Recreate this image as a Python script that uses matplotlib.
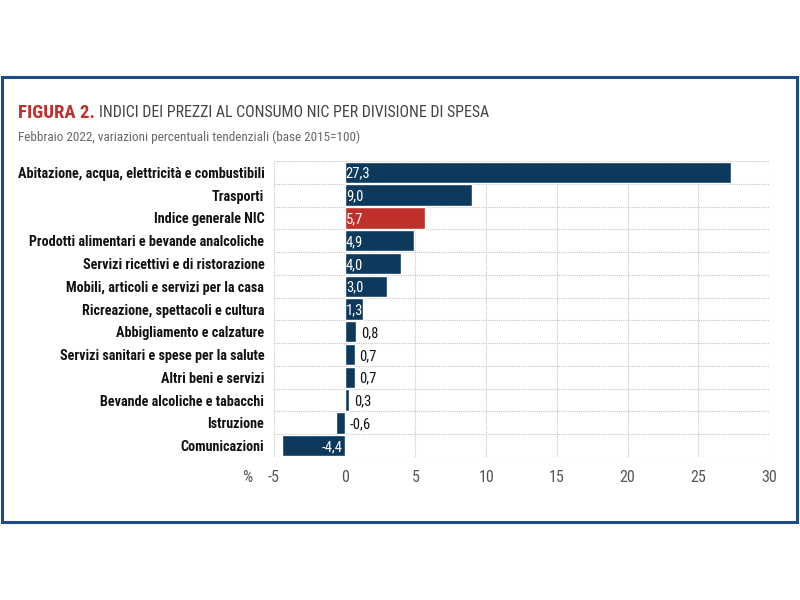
import os
import matplotlib.pyplot as plt
import matplotlib.font_manager as fm
from matplotlib.patches import Rectangle

categories = [
    "Abitazione, acqua, elettricità e combustibili",
    "Trasporti",
    "Indice generale NIC",
    "Prodotti alimentari e bevande analcoliche",
    "Servizi ricettivi e di ristorazione",
    "Mobili, articoli e servizi per la casa",
    "Ricreazione, spettacoli e cultura",
    "Abbigliamento e calzature",
    "Servizi sanitari e spese per la salute",
    "Altri beni e servizi",
    "Bevande alcoliche e tabacchi",
    "Istruzione",
    "Comunicazioni",
]
values = [27.3, 9.0, 5.7, 4.9, 4.0, 3.0, 1.3, 0.8, 0.7, 0.7, 0.3, -0.6, -4.4]
xticks = [-5, 0, 5, 10, 15, 20, 25, 30]
highlight = "Indice generale NIC"

navy = "#0d3a5c"
red = "#c0302a"

files = {os.path.basename(f.fname): f.fname for f in fm.fontManager.ttflist}


def find_font(names, fallback_weight):
    # narrow fonts first, plain DejaVu if none is installed
    for n in names:
        if n in files:
            return fm.FontProperties(fname=files[n])
    return fm.FontProperties(family="DejaVu Sans", weight=fallback_weight)


fp_bold = find_font(["RobotoCondensed-Bold.ttf", "LiberationSansNarrow-Bold.ttf",
                     "NotoSans-ExtraCondensedBold.ttf", "NotoSans-CondensedBold.ttf",
                     "DejaVuSansCondensed-Bold.ttf"], "bold")
fp_reg = find_font(["RobotoCondensed-Regular.ttf", "LiberationSansNarrow-Regular.ttf",
                    "NotoSans-ExtraCondensed.ttf", "NotoSans-Condensed.ttf",
                    "DejaVuSansCondensed.ttf"], "normal")

fig = plt.figure(figsize=(8, 6), dpi=100)
fig.patch.set_facecolor("white")
renderer = fig.canvas.get_renderer()


def fit(texts, target_px):
    # scale font size so the widest text is target_px wide
    w = max(t.get_window_extent(renderer).width for t in texts)
    for t in texts:
        t.set_fontsize(t.get_fontsize() * target_px / w)


# blue frame around the chart
fig.add_artist(Rectangle((0.003, 0.13), 0.993, 0.742, transform=fig.transFigure,
                         fill=False, edgecolor="#1b4a86", linewidth=2.2))

ax = fig.add_axes([0.3425, 0.2383, 0.6188, 0.4934])
n = len(categories)
ys = list(range(n))
colors = [red if c == highlight else navy for c in categories]
ax.barh(ys, values, height=0.94, color=colors, edgecolor="white", linewidth=1.0, zorder=3)

ax.set_xlim(-5, 30)
ax.set_ylim(n - 0.5, -0.5)
ax.set_xticks(xticks)
xl = ax.set_xticklabels([str(t) for t in xticks], color="#555555", fontproperties=fp_reg)
ax.set_yticks(ys)
yl = ax.set_yticklabels(categories, color="#111111", fontproperties=fp_bold)
ax.tick_params(length=0, pad=7)
ax.tick_params(axis="x", pad=9)

for t in xticks:
    ax.axvline(t, color="#c4c4c4", linestyle=(0, (1, 1)), linewidth=0.8, zorder=1)
for b in range(n + 1):
    ax.axhline(b - 0.5, color="#c4c4c4", linestyle=(0, (1, 1)), linewidth=0.8, zorder=1)
for s in ax.spines.values():
    s.set_visible(False)

vals = []
for y, v in zip(ys, values):
    txt = f"{v:.1f}".replace(".", ",")
    if v >= 1.0:
        t = ax.text(0.08, y + 0.06, txt, color="white", va="center", ha="left",
                    fontproperties=fp_reg, zorder=4)
    elif v <= -1.0:
        t = ax.text(-0.15, y + 0.06, txt, color="white", va="center", ha="right",
                    fontproperties=fp_reg, zorder=4)
    else:
        t = ax.text(max(v, 0) + 0.35, y + 0.06, txt, color="#111111", va="center", ha="left",
                    fontproperties=fp_reg, zorder=4)
    vals.append(t)

pct = ax.text(-6.9, -0.068, "%", transform=ax.get_xaxis_transform(), color="#555555",
              va="center", ha="center", fontproperties=fp_reg)

t1 = fig.text(0.022, 0.812, "FIGURA 2.", color=red, va="center", fontproperties=fp_bold)
t2 = ax.annotate("INDICI DEI PREZZI AL CONSUMO NIC PER DIVISIONE DI SPESA", xy=(1, 0.5),
                 xycoords=t1, xytext=(3, 0), textcoords="offset points", va="center",
                 color="#444444", fontproperties=fp_reg, annotation_clip=False)
t3 = fig.text(0.022, 0.772, "Febbraio 2022, variazioni percentuali tendenziali (base 2015=100)",
              color="#666666", va="center", fontproperties=fp_reg)

fit(list(yl), 248)
fit([t1], 76)
fit([t2], 392)
fit([t3], 338)
for t in vals:
    t.set_fontsize(10.5)
for t in list(xl) + [pct]:
    t.set_fontsize(11.5)

fig.savefig("out.png", dpi=100)
